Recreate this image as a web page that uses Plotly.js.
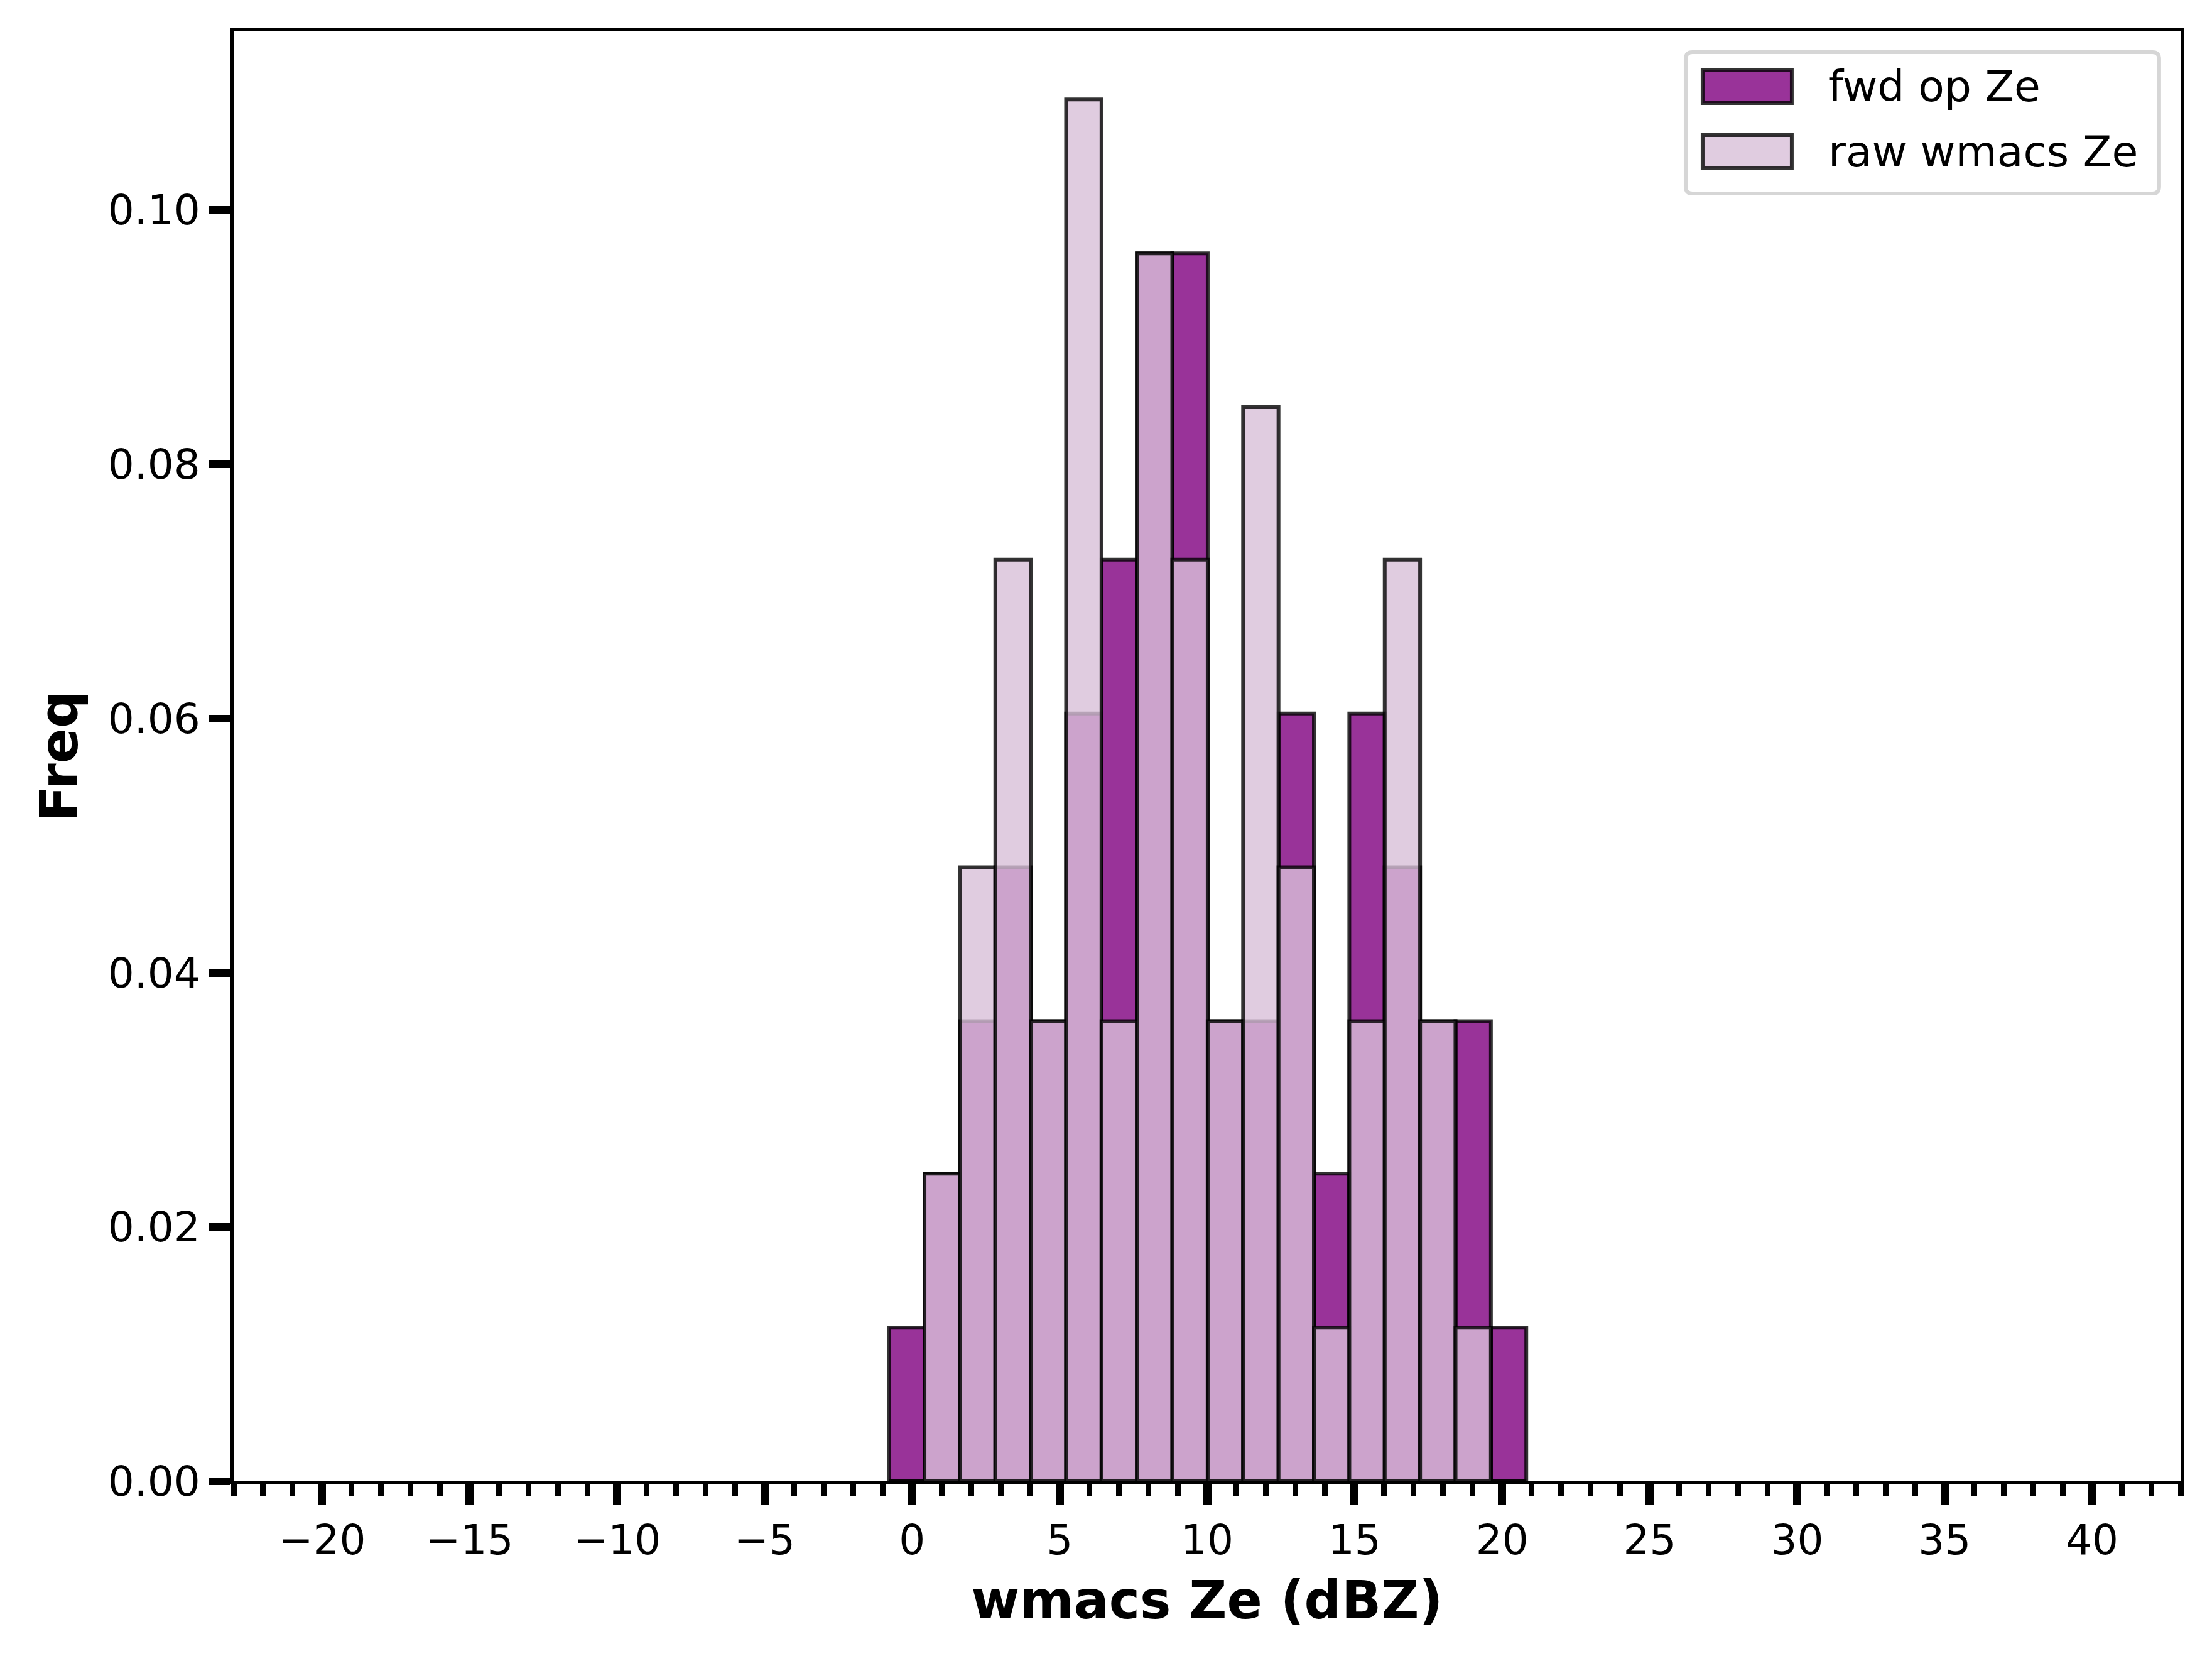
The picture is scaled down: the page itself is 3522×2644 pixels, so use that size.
<!DOCTYPE html>
<html>
<head>
<meta charset="utf-8">
<script src="https://cdn.plot.ly/plotly-3.0.1.min.js"></script>
<style>
  html, body { margin: 0; padding: 0; background: #fff; }
  #chart { width: 3522px; height: 2644px; }
</style>
</head>
<body>
<div id="chart"></div>
<script>
// histogram bins (dBZ), width 1.2
const binCenters = [-0.18, 1.02, 2.22, 3.42, 4.62, 5.82, 7.02, 8.22, 9.42,
                    10.62, 11.82, 13.02, 14.22, 15.42, 16.62, 17.82, 19.02, 20.22];
const binWidth = 1.2;

// density per bin
const fwdOpZe = [0.0121, 0.0242, 0.0362, 0.0483, 0.0362, 0.0604, 0.0725, 0.0966, 0.0966,
                 0.0362, 0.0362, 0.0604, 0.0242, 0.0604, 0.0483, 0.0362, 0.0362, 0.0121];
const rawWmacsZe = [0, 0.0242, 0.0483, 0.0725, 0.0362, 0.1087, 0.0362, 0.0966, 0.0725,
                    0.0362, 0.0845, 0.0483, 0.0121, 0.0362, 0.0725, 0.0362, 0.0121, 0];

const seriesNames = ["fwd op Ze", "raw wmacs Ze"];
const yTicks = [0, 0.02, 0.04, 0.06, 0.08, 0.10];
const xTicks = [-20, -15, -10, -5, 0, 5, 10, 15, 20, 25, 30, 35, 40];

const FWD_COLOR = "rgba(128,0,128,0.8)";     // purple, alpha .8
const RAW_COLOR = "rgba(216,191,216,0.8)";   // thistle, alpha .8
const EDGE = "rgba(0,0,0,0.8)";
const FONT = "DejaVu Sans, Verdana, sans-serif";

function barTrace(y, name, color) {
  return {
    type: "bar",
    x: binCenters,
    y: y,
    width: binWidth,
    name: name,
    marker: { color: color, line: { color: EDGE, width: 6 } },
    showlegend: false,
    hoverinfo: "x+y"
  };
}

const traces = [
  barTrace(fwdOpZe, seriesNames[0], FWD_COLOR),
  barTrace(rawWmacsZe, seriesNames[1], RAW_COLOR)
];

// hand-drawn legend, matplotlib style (rounded box, wide swatches)
function roundedRect(x0, y0, x1, y1, rx, ry) {
  return `M${x0 + rx},${y0} L${x1 - rx},${y0} Q${x1},${y0} ${x1},${y0 + ry} ` +
         `L${x1},${y1 - ry} Q${x1},${y1} ${x1 - rx},${y1} L${x0 + rx},${y1} ` +
         `Q${x0},${y1} ${x0},${y1 - ry} L${x0},${y0 + ry} Q${x0},${y0} ${x0 + rx},${y0} Z`;
}

const legendShapes = [
  {
    type: "path", xref: "paper", yref: "paper",
    path: roundedRect(0.7458, 0.8878, 0.9890, 0.9853, 0.0035, 0.0047),
    fillcolor: "rgba(255,255,255,0.8)",
    line: { color: "rgba(204,204,204,0.8)", width: 6 },
    layer: "above"
  },
  {
    type: "rect", xref: "paper", yref: "paper",
    x0: 0.7545, x1: 0.8003, y0: 0.9502, y1: 0.9727,
    fillcolor: FWD_COLOR, line: { color: EDGE, width: 6 }, layer: "above"
  },
  {
    type: "rect", xref: "paper", yref: "paper",
    x0: 0.7545, x1: 0.8003, y0: 0.9056, y1: 0.9281,
    fillcolor: RAW_COLOR, line: { color: EDGE, width: 6 }, layer: "above"
  }
];

const legendText = [
  { y: 0.9615, text: seriesNames[0] },
  { y: 0.9168, text: seriesNames[1] }
].map(d => ({
  xref: "paper", yref: "paper",
  x: 0.8184, y: d.y,
  xanchor: "left", yanchor: "middle",
  text: d.text,
  showarrow: false,
  font: { family: FONT, size: 68, color: "black" }
}));

const layout = {
  width: 3522,
  height: 2644,
  paper_bgcolor: "white",
  plot_bgcolor: "white",
  margin: { l: 372, r: 50, t: 49, b: 286, pad: 0 },
  barmode: "overlay",
  font: { family: FONT, size: 66, color: "black" },
  xaxis: {
    range: [-23, 43],
    tickvals: xTicks,
    ticktext: xTicks.map(v => v < 0 ? "\u2212" + Math.abs(v) : String(v)),
    ticks: "outside",
    ticklen: 32,
    tickwidth: 13,
    tickcolor: "black",
    minor: { dtick: 1, tick0: 0, ticks: "outside", ticklen: 18, tickwidth: 9, tickcolor: "black", showgrid: false },
    showline: true,
    linecolor: "black",
    linewidth: 5,
    mirror: true,
    showgrid: false,
    zeroline: false,
    tickfont: { family: FONT, size: 66, color: "black" },
    title: {
      text: "<b>wmacs Ze (dBZ)</b>",
      font: { family: FONT, size: 83, color: "black" },
      standoff: 30
    }
  },
  yaxis: {
    range: [0, 0.1141],
    tickvals: yTicks,
    tickformat: ".2f",
    ticks: "outside",
    ticklen: 35,
    tickwidth: 12,
    tickcolor: "black",
    showline: true,
    linecolor: "black",
    linewidth: 5,
    mirror: true,
    showgrid: false,
    zeroline: false,
    tickfont: { family: FONT, size: 66, color: "black" },
    title: {
      text: "<b>Freq</b>",
      font: { family: FONT, size: 83, color: "black" },
      standoff: 22
    }
  },
  shapes: legendShapes,
  annotations: legendText
};

Plotly.newPlot("chart", traces, layout, {
  displayModeBar: false,
  staticPlot: true
});
</script>
</body>
</html>
